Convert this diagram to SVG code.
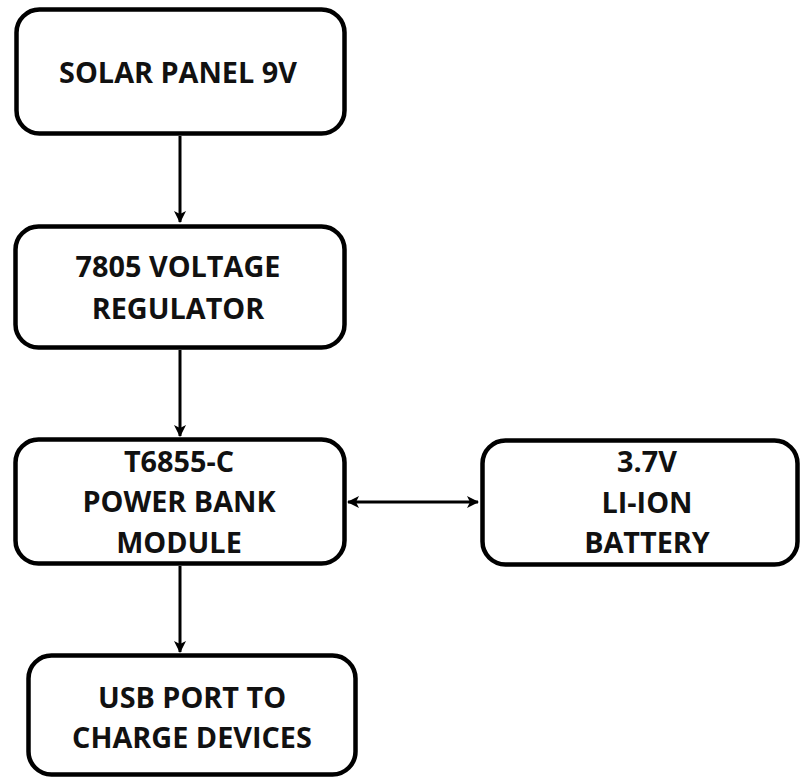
<svg xmlns="http://www.w3.org/2000/svg" width="800" height="778" viewBox="0 0 800 778">
<defs>
<style>
.box{fill:#fff;stroke:#000;stroke-width:4.5}
.t{font-family:"Open Sans","Liberation Sans",sans-serif;font-weight:bold;font-size:28.8px;fill:#111;text-anchor:middle}
.ln{stroke:#000;stroke-width:3;fill:none}
</style>
<marker id="ah" viewBox="0 0 12 12" refX="11" refY="6" markerWidth="12" markerHeight="12" markerUnits="userSpaceOnUse" orient="auto-start-reverse">
<path d="M0,0 L12,6 L0,12 L3,6 Z" fill="#000"/>
</marker>
</defs>
<rect width="800" height="778" fill="#fff"/>
<g id="connectors">
<line class="ln" x1="180" y1="136" x2="180" y2="222" marker-end="url(#ah)"/>
<line class="ln" x1="180" y1="350" x2="180" y2="436" marker-end="url(#ah)"/>
<line class="ln" x1="180" y1="566" x2="180" y2="652" marker-end="url(#ah)"/>
<line class="ln" x1="348" y1="502" x2="478" y2="502" marker-start="url(#ah)" marker-end="url(#ah)"/>
</g>
<g id="solar">
<rect class="box" x="16.5" y="9.5" width="328" height="124" rx="23"/>
<text class="t" x="178" y="83">SOLAR PANEL 9V</text>
</g>
<g id="regulator">
<rect class="box" x="15.5" y="226.5" width="329" height="121" rx="23"/>
<text class="t" x="178" y="277">7805 VOLTAGE</text>
<text class="t" x="178" y="319">REGULATOR</text>
</g>
<g id="module">
<rect class="box" x="15.5" y="439.5" width="329" height="124" rx="23"/>
<text class="t" x="179" y="472">T6855-C</text>
<text class="t" x="179" y="512">POWER BANK</text>
<text class="t" x="179" y="553">MODULE</text>
</g>
<g id="battery">
<rect class="box" x="482.5" y="440.5" width="315" height="124" rx="23"/>
<text class="t" x="647" y="472">3.7V</text>
<text class="t" x="647" y="513">LI-ION</text>
<text class="t" x="647" y="553">BATTERY</text>
</g>
<g id="usb">
<rect class="box" x="28.5" y="655.5" width="327" height="119" rx="23"/>
<text class="t" x="192" y="708">USB PORT TO</text>
<text class="t" x="192" y="748">CHARGE DEVICES</text>
</g>
</svg>
